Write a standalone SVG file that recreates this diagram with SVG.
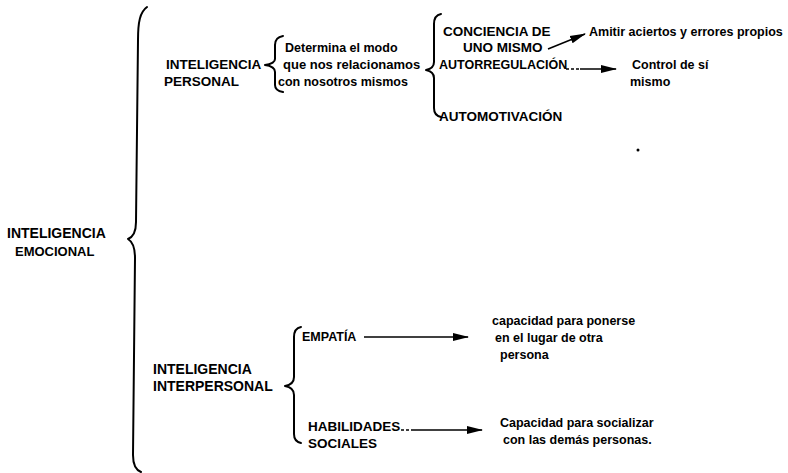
<svg xmlns="http://www.w3.org/2000/svg" width="788" height="473" viewBox="0 0 788 473">
<defs>
<style>
text{font-family:"Liberation Sans",Arial,sans-serif;font-weight:bold;font-size:12.5px;fill:#000}
.c13{font-size:13px}
.c135{font-size:13.5px}
.c14{font-size:14px}
.brace{fill:none;stroke:#000;stroke-width:2;stroke-linecap:round;stroke-linejoin:round}
.conn{fill:none;stroke:#000;stroke-width:1.5}
</style>
<marker id="ah" viewBox="0 0 16 10" refX="15" refY="5" markerWidth="16" markerHeight="10" markerUnits="userSpaceOnUse" orient="auto">
<path d="M0,1 L16,5 L0,9 Z" fill="#000"/>
</marker>
</defs>
<rect width="788" height="473" fill="#fff"/>
<g id="braces">
<path class="brace" d="M147,7 C140,12 138,22 138,40 L136,222 C136,232 133,237 128,239 C133,242 135,248 135,258 L133,455 C133,465 136,470 141,472"/>
<path class="brace" d="M283,36 C277,37 275,40 275,45 L275,59 C275,62 272,64 265,65 C272,66 275,68 275,72 L275,85 C275,89 277,91 283,92"/>
<path class="brace" d="M441,14 C436,15 434,18 434,24 L434,62 C434,67 431,69 426,70 C431,71 434,73 434,78 L434,108 C434,113 436,116 441,117"/>
<path class="brace" d="M301,327 C296,328 294,331 294,337 L294,377 C294,382 291,385 285,386 C291,387 294,390 294,395 L294,434 C294,439 296,442 301,443"/>
</g>
<g id="n-emocional">
<text class="c14" x="7" y="238">INTELIGENCIA</text>
<text class="c13" x="15" y="256">EMOCIONAL</text>
</g>
<g id="n-personal">
<text class="c135" x="166" y="69">INTELIGENCIA</text>
<text class="c135" x="164" y="86">PERSONAL</text>
</g>
<g id="n-determina">
<text x="285" y="52">Determina el modo</text>
<text class="c13" x="283" y="69">que nos relacionamos</text>
<text x="278" y="86">con nosotros mismos</text>
</g>
<g id="n-conciencia">
<text class="c135" x="443" y="36">CONCIENCIA DE</text>
<text class="c135" x="463" y="52">UNO MISMO</text>
</g>
<g id="n-autorregulacion">
<text x="439" y="69">AUTORREGULACIÓN</text>
</g>
<g id="n-automotivacion">
<text class="c135" x="439" y="121">AUTOMOTIVACIÓN</text>
</g>
<g id="n-amitir">
<text x="589" y="36">Amitir aciertos y errores propios</text>
</g>
<g id="n-control">
<text x="632" y="69">Control de sí</text>
<text x="630" y="86">mismo</text>
</g>
<g id="n-interpersonal">
<text class="c14" x="153" y="374">INTELIGENCIA</text>
<text class="c14" x="153" y="391">INTERPERSONAL</text>
</g>
<g id="n-empatia">
<text x="302" y="341">EMPATÍA</text>
</g>
<g id="n-habilidades">
<text class="c135" x="308" y="431">HABILIDADES</text>
<text class="c135" x="308" y="448">SOCIALES</text>
</g>
<g id="n-capacidad-ponerse">
<text x="492" y="325">capacidad para ponerse</text>
<text x="495" y="342">en el lugar de otra</text>
<text x="500" y="359">persona</text>
</g>
<g id="n-capacidad-socializar">
<text x="500" y="427">Capacidad para socializar</text>
<text x="503" y="444">con las demás personas.</text>
</g>
<g id="connectors">
<path class="conn" d="M548,49 L585,34" marker-end="url(#ah)"/>
<path class="conn" d="M566,69 L580,69" stroke-dasharray="3,2"/>
<path class="conn" d="M580,69 L616,69" marker-end="url(#ah)"/>
<path class="conn" d="M364,337 L468,337" marker-end="url(#ah)"/>
<path class="conn" d="M401,430 L414,430" stroke-dasharray="3,2"/>
<path class="conn" d="M414,430 L482,430" marker-end="url(#ah)"/>
</g>
<circle cx="638" cy="150" r="1.5" fill="#000"/>
</svg>
